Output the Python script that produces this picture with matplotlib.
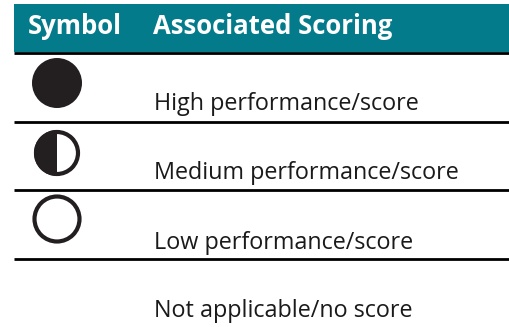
import matplotlib.pyplot as plt
from matplotlib.patches import Circle, Wedge, Rectangle

headers = ['Symbol', 'Associated Scoring']
symbols = ['full', 'half', 'empty', 'none']
labels = ['High performance/score', 'Medium performance/score',
          'Low performance/score', 'Not applicable/no score']

teal = '#037B8B'
ink = '#231f20'
plt.rcParams['font.family'] = ['Open Sans', 'DejaVu Sans']

fig = plt.figure(figsize=(5.09, 3.27), dpi=100)
ax = fig.add_axes([0, 0, 1, 1])
ax.set_xlim(0, 509)
ax.set_ylim(327, 0)
ax.axis('off')

# header band
ax.add_patch(Rectangle((14, 4), 495, 48, color=teal, lw=0))
ax.text(28, 27, headers[0], color='white', fontsize=18.5, fontweight='bold', va='center')
ax.text(153, 27, headers[1], color='white', fontsize=18.5, fontweight='bold', va='center')

# separator lines
for y in [52.5, 122, 190, 259]:
    ax.plot([14, 509], [y, y], color='black', lw=2, solid_capstyle='butt')

circ_y = [83, 153, 219, None]
circ_r = [25, 23, 24.5, None]
text_y = [104, 173, 243, 311]

for sym, lab, cy, r, ty in zip(symbols, labels, circ_y, circ_r, text_y):
    if sym == 'full':
        ax.add_patch(Circle((57, cy), r, fc=ink, ec='none', lw=0))
    elif sym == 'half':
        ax.add_patch(Wedge((57, cy), r, 90, 270, fc=ink, ec='none', lw=0))
        ax.add_patch(Circle((57, cy), r - 2, fc='none', ec=ink, lw=3))
    elif sym == 'empty':
        ax.add_patch(Circle((57, cy), r - 2, fc='none', ec=ink, lw=3))
    ax.text(154, ty, lab, color='#1a1a1a', fontsize=16.8, va='center')

fig.savefig('out.png', dpi=100)
